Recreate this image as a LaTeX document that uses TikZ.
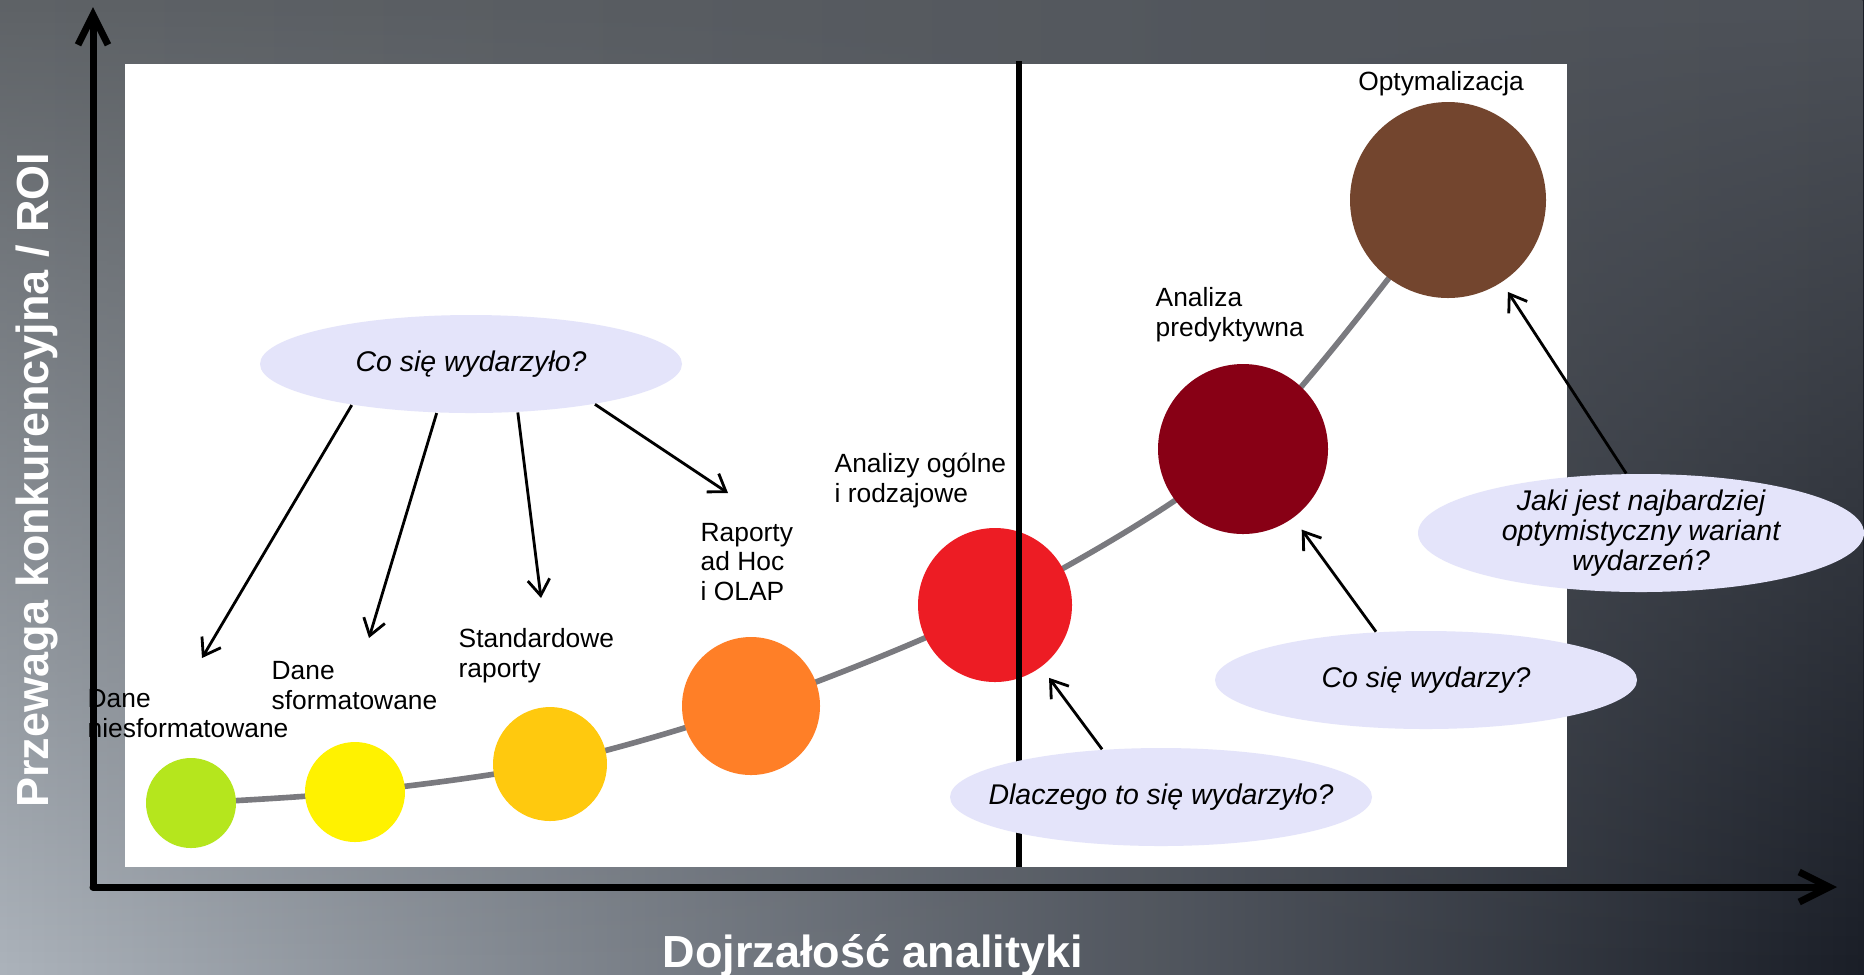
\documentclass[tikz,border=0pt]{standalone}
\usepackage{fontspec}
\setmainfont{Liberation Sans}
\usepackage{tikz}
\usetikzlibrary{arrows.meta, shapes.geometric, fadings}

\definecolor{bgtopl}{RGB}{94,98,102}
\definecolor{bgtopr}{RGB}{77,81,88}
\definecolor{bgbotl}{RGB}{172,179,187}
\definecolor{bgbotm}{RGB}{140,147,157}
\definecolor{bgbotr}{RGB}{26,30,39}
\definecolor{askfill}{RGB}{228,228,250}
\definecolor{trendgray}{RGB}{122,122,127}
\definecolor{rawgreen}{RGB}{181,230,29}
\definecolor{fmtyellow}{RGB}{255,242,0}
\definecolor{stdgold}{RGB}{255,201,14}
\definecolor{adhocorange}{RGB}{255,127,39}
\definecolor{genred}{RGB}{237,28,36}
\definecolor{preddark}{RGB}{136,0,21}
\definecolor{optbrown}{RGB}{115,69,46}

\begin{document}
\begin{tikzpicture}[x=0.1mm, y=-0.1mm,
   arrowaxis/.style = {line width=0.7mm, line cap=round, -{Straight Barb[length=3mm, width=3mm]}},
   axislabel/.style = {text=white, inner sep=0pt, font=\fontsize{12.8}{15}\selectfont\bfseries},
   bubble/.style = {circle, inner sep=0pt, minimum size=#1},
   stage/.style = {anchor=base west, inner sep=0pt, align=left, font=\fontsize{7.5}{8.3}\selectfont},
   ask/.style = {ellipse, fill=askfill, inner xsep=0pt, inner ysep=-1mm, minimum width=42.2mm,
      minimum height=9.8mm, align=center, font=\fontsize{8.1}{8.5}\selectfont\itshape},
   pointer/.style = {line width=0.8pt, -{Straight Barb[length=1.6mm, width=2.2mm]}}]
   \useasboundingbox (0,0) rectangle (1864,974);
   \shade[left color=bgbotl, middle color=bgbotm, right color=bgbotr] (0,0) rectangle (1864,974);
   \shade[left color=bgtopl, right color=bgtopr, path fading=south] (0,0) rectangle (1864,974);
   \fill[white] (125,64) rectangle (1567,867);

   \coordinate (c1) at (191,803);
   \coordinate (c2) at (355,792);
   \coordinate (c3) at (550,764);
   \coordinate (c4) at (751,706);
   \coordinate (c5) at (995,605);
   \coordinate (c6) at (1243,449);
   \coordinate (c7) at (1448,200);
   \draw[trendgray, line width=1.6pt] plot[smooth] coordinates {(c1) (c2) (c3) (c4) (c5) (c6) (c7)};

   % base of a multi-line label = its last line
   \node[stage] (lraw)   at (87,737)   {Dane\\niesformatowane};
   \node[stage] (lfmt)   at (271,709)  {Dane\\sformatowane};
   \node[stage] (lstd)   at (458,677)  {Standardowe\\raporty};
   \node[stage] (ladhoc) at (700,600)  {Raporty\\ad Hoc\\i OLAP};
   \node[stage] (lgen)   at (834,502)  {Analizy ogólne\\i rodzajowe};
   \node[stage] (lpred)  at (1155,336) {Analiza\\predyktywna};
   \node[stage, anchor=base] (lopt) at (1441,90) {Optymalizacja};

   \node[bubble=9mm, fill=rawgreen]      (raw)   at (c1) {};
   \node[bubble=10mm, fill=fmtyellow]    (fmt)   at (c2) {};
   \node[bubble=11.4mm, fill=stdgold]    (std)   at (c3) {};
   \node[bubble=13.8mm, fill=adhocorange] (adhoc) at (c4) {};
   \node[bubble=15.4mm, fill=genred]     (gen)   at (c5) {};
   \node[bubble=17mm, fill=preddark]     (pred)  at (c6) {};
   \node[bubble=19.6mm, fill=optbrown]   (opt)   at (c7) {};

   \draw[line width=0.6mm] (1019,61) -- (1019,867);

   \node[ask] (past) at (471,364)  {Co się wydarzyło?};
   \node[ask, inner xsep=-2.4mm] (why) at (1161,797) {Dlaczego to się wydarzyło?};
   \node[ask] (next) at (1426,680) {Co się wydarzy?};
   \node[ask, minimum width=44.6mm, minimum height=11.8mm] (best) at (1641,533)
      {Jaki jest najbardziej\\optymistyczny wariant\\wydarzeń?};

   \coordinate (t1) at (202,658);
   \coordinate (t2) at (369,638);
   \coordinate (t3) at (541,598);
   \coordinate (t4) at (728,493);
   \draw[pointer] (past.199) -- (t1);
   \draw[pointer] (past.235) -- (t2);
   \draw[pointer] (past.314) -- (t3);
   \draw[pointer] (past.342) -- (t4);
   \draw[pointer, shorten >=1.3mm] (why.141) -- (gen);
   \draw[pointer, shorten >=1.4mm] (next.136) -- (pred);
   \draw[pointer, shorten >=1.1mm] (best.104) -- (opt);

   \coordinate (o) at (93,887);
   \draw[arrowaxis] (o) -- (93,7);
   \draw[arrowaxis] (o) -- (1837,887);
   \node[axislabel, anchor=base] (xlab) at (873,967) {Dojrzałość analityki};
   \node[axislabel, rotate=90, anchor=base] (ylab) at (48,480) {Przewaga konkurencyjna / ROI};
\end{tikzpicture}
\end{document}
